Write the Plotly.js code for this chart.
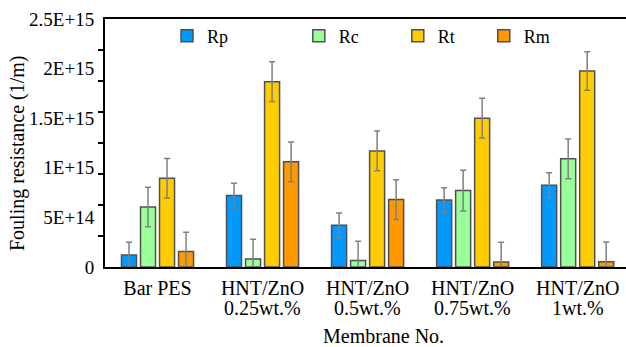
<!DOCTYPE html>
<html>
<head>
<meta charset="utf-8">
<script src="https://cdn.plot.ly/plotly-3.0.1.min.js"></script>
<style>html,body{margin:0;padding:0;background:#fff}#chart{width:626px;height:347px}</style>
</head>
<body>
<div id="chart"></div>
<script>
const categories = ["Bar PES", "HNT/ZnO 0.25wt.%", "HNT/ZnO 0.5wt.%", "HNT/ZnO 0.75wt.%", "HNT/ZnO 1wt.%"];
const tickLine1 = ["Bar PES", "HNT/ZnO", "HNT/ZnO", "HNT/ZnO", "HNT/ZnO"];
const tickLine2 = ["", "0.25wt.%", "0.5wt.%", "0.75wt.%", "1wt.%"];
const seriesNames = ["Rp", "Rc", "Rt", "Rm"];
const Rp = [1.2e14, 7.2e14, 4.2e14, 6.75e14, 8.25e14];
const Rc = [6.05e14, 0.8e14, 0.65e14, 7.7e14, 1.09e15];
const Rt = [8.95e14, 1.868e15, 1.17e15, 1.50e15, 1.976e15];
const Rm = [1.55e14, 1.06e15, 6.8e14, 0.5e14, 0.53e14];
const RpErr = [1.3e14, 1.25e14, 1.25e14, 1.25e14, 1.25e14];
const RcErr = [2.0e14, 2.0e14, 1.95e14, 2.05e14, 2.0e14];
const RtErr = [2.0e14, 2.0e14, 2.0e14, 2.0e14, 1.95e14];
const RmErr = [1.95e14, 2.0e14, 2.0e14, 2.0e14, 2.0e14];
const yTickVals = [0, 5e14, 1e15, 1.5e15, 2e15, 2.5e15];
const yTickText = ["0", "5E+14", "1E+15", "1.5E+15", "2E+15", "2.5E+15"];
const yMinorVals = [3.125e14, 6.25e14, 9.375e14, 1.25e15, 1.5625e15, 1.875e15, 2.1875e15];

const colors = ["#0099ff", "#99ff99", "#ffcc00", "#ff9900"];
const values = [Rp, Rc, Rt, Rm];
const errs = [RpErr, RcErr, RtErr, RmErr];
const legendIds = ["legend", "legend2", "legend3", "legend4"];
const legendX = [0.119, 0.372, 0.562, 0.727];

const FONT = "Liberation Serif";

const traces = seriesNames.map((n, i) => ({
  type: "bar",
  name: n,
  x: categories,
  y: values[i],
  legend: legendIds[i],
  marker: {color: colors[i], line: {color: "#505050", width: 1.5}},
  error_y: {type: "data", array: errs[i], visible: true, color: "#808080", thickness: 1.5, width: 3}
}));

const annotations = [
  {text: "Membrane No.", xref: "paper", yref: "paper", x: (383 - 105) / 521, y: (267 - 336) / 248,
   xanchor: "center", yanchor: "middle", showarrow: false, font: {family: FONT, size: 20, color: "#000"}},
  {text: "Fouling resistance (1/m)", xref: "paper", yref: "paper", x: (17 - 105) / 521, y: (267 - 153) / 248,
   xanchor: "center", yanchor: "middle", textangle: -90, showarrow: false, font: {family: FONT, size: 20, color: "#000"}}
];
categories.forEach((c, i) => {
  if (tickLine2[i]) {
    annotations.push({text: tickLine2[i], xref: "x", yref: "paper", x: c, y: (267 - 308) / 248,
      xanchor: "center", yanchor: "middle", showarrow: false, font: {family: FONT, size: 20, color: "#000"}});
  }
});

const layout = {
  width: 626, height: 347,
  margin: {l: 105, r: 0, t: 19, b: 80},
  paper_bgcolor: "#fff", plot_bgcolor: "#fff",
  font: {family: FONT, color: "#000", size: 19},
  barmode: "group",
  bargap: 0.276,
  bargroupgap: 0.21,
  showlegend: true,
  xaxis: {
    type: "category",
    range: [-0.5, 4.46],
    showline: true, linecolor: "#000", linewidth: 2, mirror: true,
    ticks: "", showgrid: false, zeroline: false,
    tickmode: "array", tickvals: categories, ticktext: tickLine1,
    tickfont: {family: FONT, size: 20, color: "#000"},
    ticklabelstandoff: 2
  },
  yaxis: {
    range: [0, 2.5e15],
    showline: true, linecolor: "#000", linewidth: 2, mirror: false,
    showgrid: false, zeroline: false,
    tickmode: "array", tickvals: yTickVals, ticktext: yTickText,
    ticks: "",
    ticklabelstandoff: 5,
    tickfont: {family: FONT, size: 19, color: "#000"},
    minor: {tickmode: "array", tickvals: yMinorVals, ticks: "outside", ticklen: 5, tickwidth: 1.5, tickcolor: "#000", showgrid: false}
  },
  annotations: annotations
};
legendIds.forEach((id, i) => {
  layout[id] = {
    x: legendX[i], y: (267 - 36) / 248, xanchor: "left", yanchor: "middle",
    orientation: "h", bgcolor: "rgba(0,0,0,0)", borderwidth: 0,
    itemwidth: 30,
    font: {family: FONT, size: 18, color: "#000"}
  };
});

Plotly.newPlot("chart", traces, layout, {displayModeBar: false, staticPlot: true});
</script>
</body>
</html>
